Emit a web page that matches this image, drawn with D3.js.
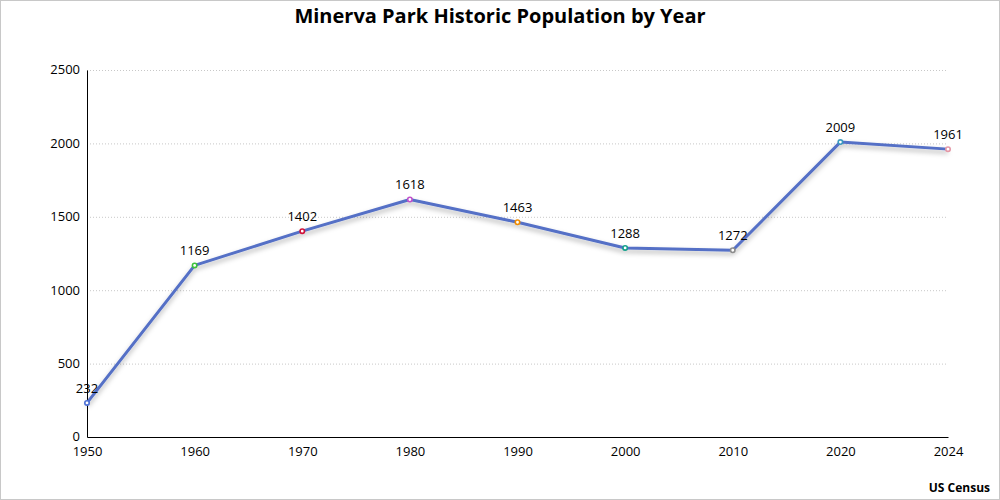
<!DOCTYPE html>
<html>
<head>
<meta charset="utf-8">
<script src="https://cdn.jsdelivr.net/npm/d3@7"></script>
<style>
  body { margin: 0; background: #fff; }
  svg { display: block; font-family: "Open Sans", "Noto Sans", sans-serif; }
</style>
</head>
<body>
<svg id="chart"></svg>
<script>
// data
const years = ['1950', '1960', '1970', '1980', '1990', '2000', '2010', '2020', '2024'];
const population = [232, 1169, 1402, 1618, 1463, 1288, 1272, 2009, 1961];
const pointColors = ['#4a6fd6', '#3cc23c', '#d0103a', '#c050cc', '#f08c00', '#12a08c', '#8c8c8c', '#3a9ac0', '#e597a6'];
const yTicks = [0, 500, 1000, 1500, 2000, 2500];

const W = 1000, H = 500;
const margins = {t: 70, r: 52, b: 63, l: 87};
const size = {w: W - margins.l - margins.r, h: H - margins.t - margins.b};

const svg = d3.select('#chart')
    .attr('width', W)
    .attr('height', H);

// outer border
svg.append('rect')
    .attr('x', 0.5).attr('y', 0.5)
    .attr('width', W - 1).attr('height', H - 1)
    .attr('fill', '#fff')
    .attr('stroke', '#c8c8c8');

// drop shadow for the line
const defs = svg.append('defs');
const f = defs.append('filter').attr('id', 'shadow')
    .attr('x', '-10%').attr('y', '-10%').attr('width', '120%').attr('height', '130%');
f.append('feDropShadow')
    .attr('dx', 0).attr('dy', 3).attr('stdDeviation', 2.5)
    .attr('flood-color', '#000').attr('flood-opacity', 0.3);

const g = svg.append('g')
    .attr('transform', `translate(${margins.l}, ${margins.t})`);

const scaleX = d3.scalePoint()
    .domain(years)
    .range([0, size.w]);

const scaleY = d3.scaleLinear()
    .domain([0, 2500])
    .range([size.h, 0]);

// grid
g.append('g')
    .selectAll('line')
    .data(yTicks.filter(d => d > 0))
    .join('line')
        .attr('x1', 0).attr('x2', size.w)
        .attr('y1', d => scaleY(d) + 0.5).attr('y2', d => scaleY(d) + 0.5)
        .attr('stroke', '#c8c8c8')
        .attr('stroke-dasharray', '1,2');

// axes
const yAxis = d3.axisLeft(scaleY)
    .tickValues(yTicks)
    .tickFormat(d3.format('d'))
    .tickSize(0)
    .tickPadding(7);
const yAxisG = g.append('g').call(yAxis);
yAxisG.select('.domain').attr('stroke', '#000');
yAxisG.selectAll('text').attr('font-size', 13).attr('fill', '#000')
    .attr('font-family', '"Open Sans", sans-serif')
    .attr('dy', '0.3em');

const xAxis = d3.axisBottom(scaleX).tickSize(0).tickPadding(10);
const xAxisG = g.append('g')
    .attr('transform', `translate(0, ${size.h})`)
    .call(xAxis);
xAxisG.select('.domain').attr('stroke', '#000');
xAxisG.selectAll('text').attr('font-size', 13).attr('fill', '#000')
    .attr('font-family', '"Open Sans", sans-serif');

const rows = years.map((y, i) => ({year: y, pop: population[i], color: pointColors[i]}));

const line = d3.line()
    .x(d => scaleX(d.year))
    .y(d => scaleY(d.pop))
    .curve(d3.curveLinear);

g.append('path')
    .datum(rows)
    .attr('d', line)
    .attr('fill', 'none')
    .attr('stroke', '#5470c6')
    .attr('stroke-width', 3)
    .attr('stroke-linejoin', 'round')
    .attr('filter', 'url(#shadow)');

g.selectAll('.pt')
    .data(rows)
    .join('circle')
        .attr('class', 'pt')
        .attr('cx', d => scaleX(d.year))
        .attr('cy', d => scaleY(d.pop))
        .attr('r', 2.2)
        .attr('fill', '#fff')
        .attr('stroke', d => d.color)
        .attr('stroke-width', 1.6);

g.selectAll('.lbl')
    .data(rows)
    .join('text')
        .attr('class', 'lbl')
        .attr('x', d => scaleX(d.year))
        .attr('y', d => scaleY(d.pop) - 10)
        .attr('text-anchor', 'middle')
        .attr('font-size', 13)
        .attr('fill', '#000')
        .text(d => d.pop);

// title
svg.append('text')
    .attr('x', W / 2)
    .attr('y', 23)
    .attr('text-anchor', 'middle')
    .attr('font-size', 20)
    .attr('font-weight', 'bold')
    .attr('fill', '#000')
    .text('Minerva Park Historic Population by Year');

// source
svg.append('text')
    .attr('x', 990)
    .attr('y', 492)
    .attr('text-anchor', 'end')
    .attr('font-size', 12)
    .attr('font-weight', 'bold')
    .attr('fill', '#000')
    .text('US Census');
</script>
</body>
</html>
